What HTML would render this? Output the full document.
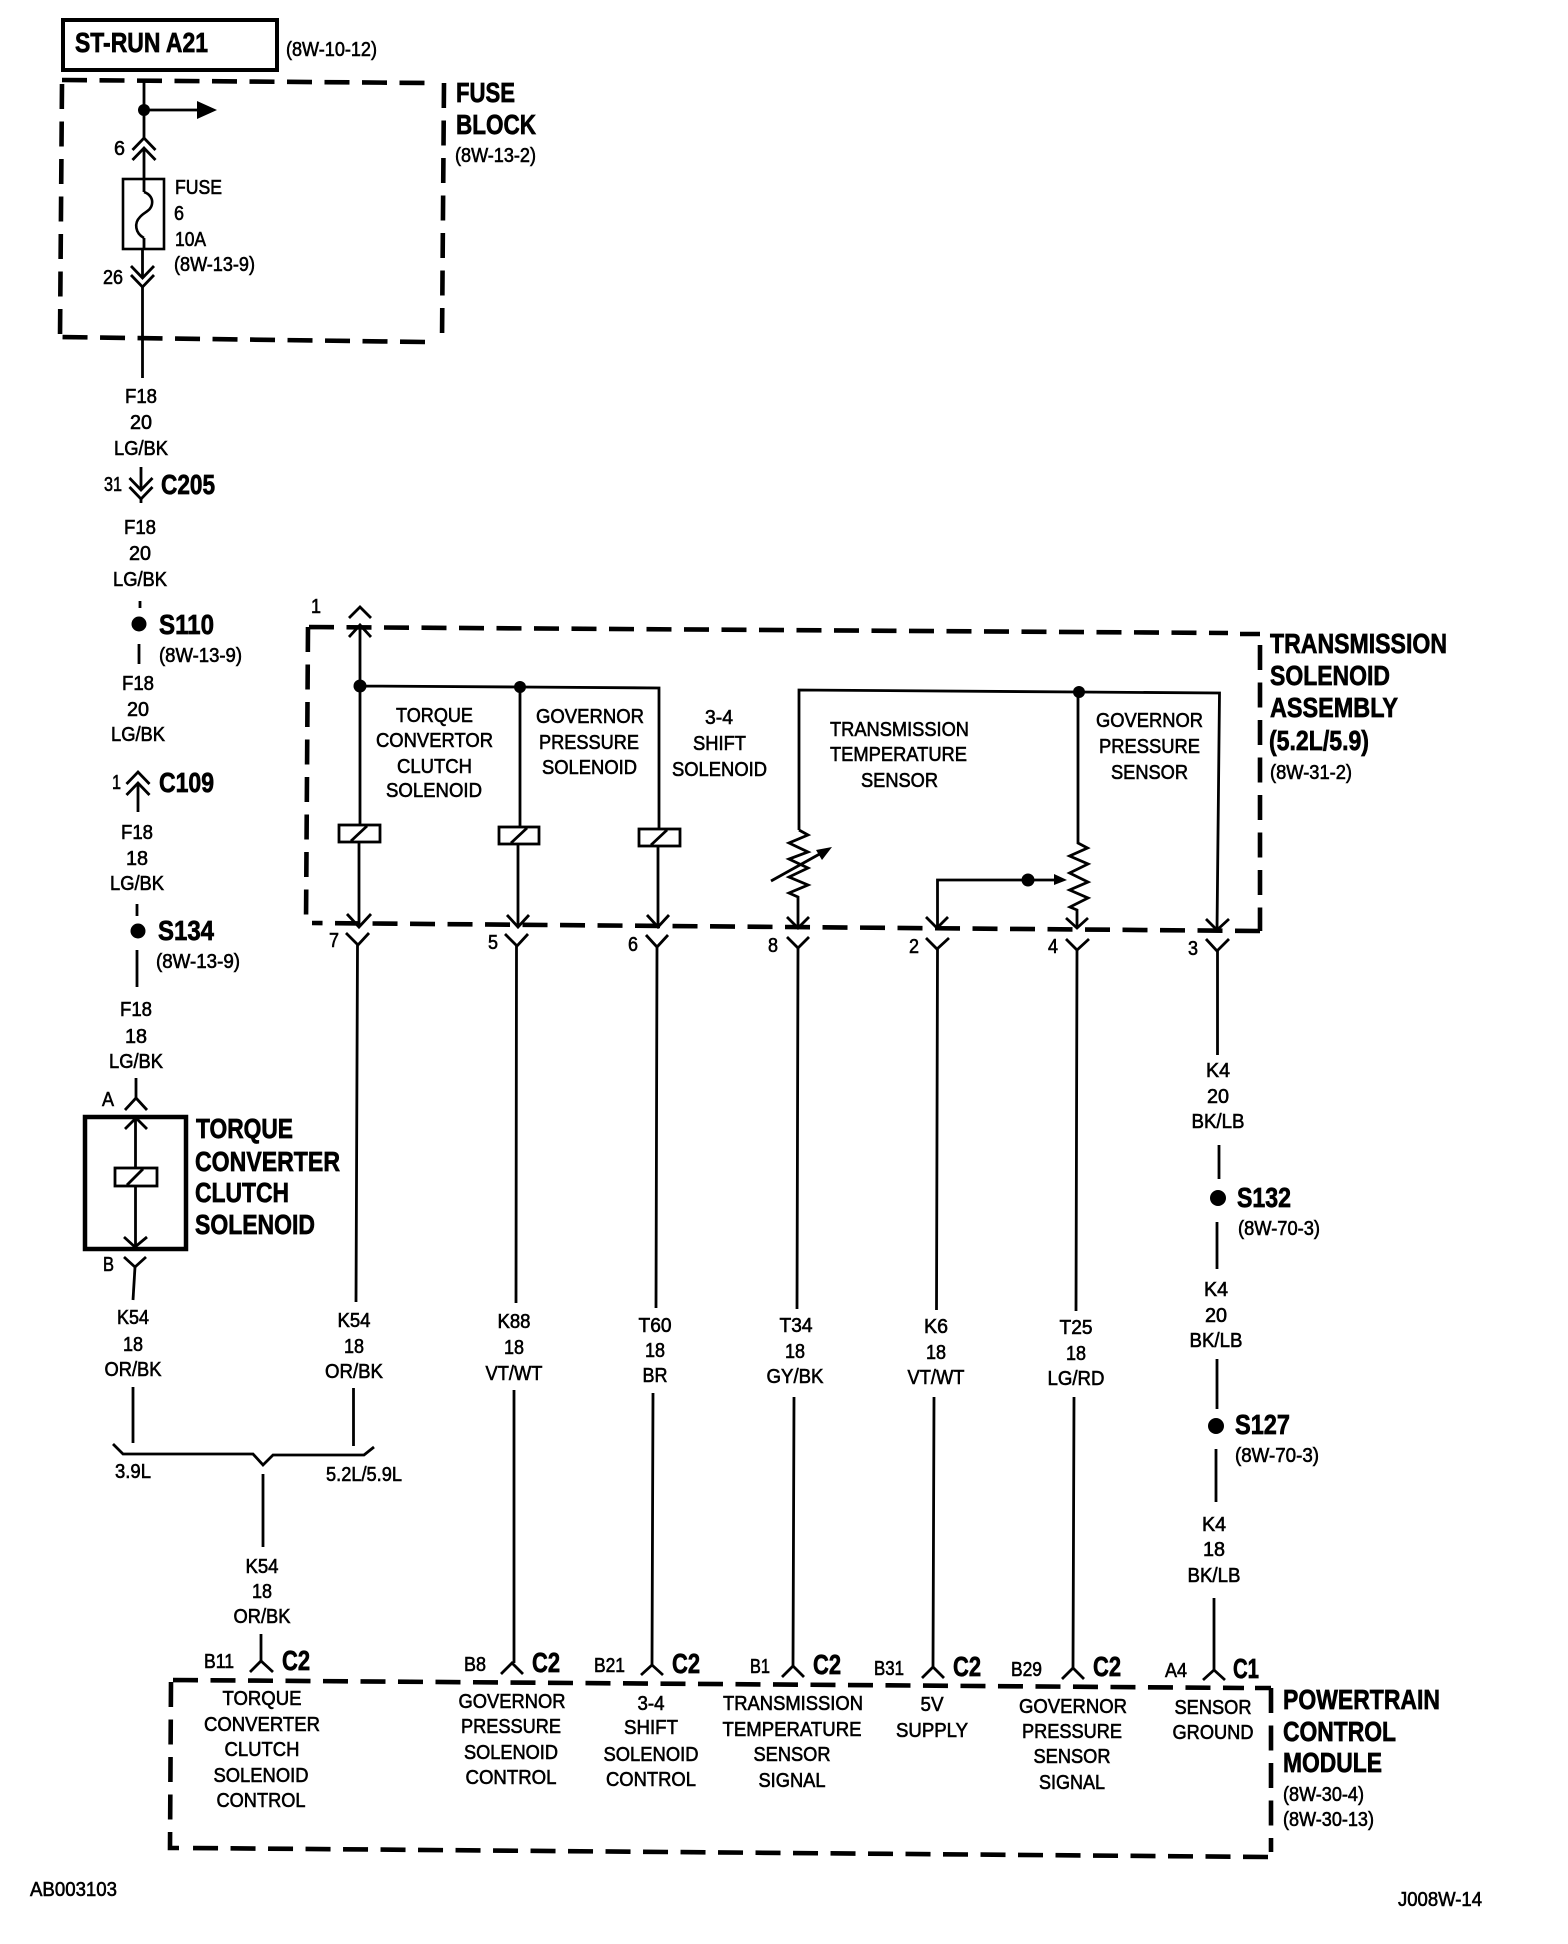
<!DOCTYPE html>
<html><head><meta charset="utf-8"><style>
html,body{margin:0;padding:0;background:#fff}
svg{display:block}
text{font-family:"Liberation Sans",sans-serif;fill:#000;transform:translateY(-1.2px)}
.r{font-size:20px;stroke:#000;stroke-width:.6px}
.m{text-anchor:middle}
.b{font-size:28px;font-weight:bold;stroke:#000;stroke-width:.7px}
.w{fill:none;stroke:#000;stroke-width:2.8}
.d{fill:none;stroke:#000;stroke-width:4.6;stroke-dasharray:25 12.5}
.v{fill:none;stroke:#000;stroke-width:2.8}
</style></head><body>
<svg width="1568" height="1944" viewBox="0 0 1568 1944" xmlns="http://www.w3.org/2000/svg">
<rect width="1568" height="1944" fill="#fff"/>

<!-- top box -->
<rect x="63" y="20" width="214" height="50" fill="none" stroke="#000" stroke-width="4"/>
<text class="b" x="75" y="53" textLength="133" lengthAdjust="spacingAndGlyphs">ST-RUN A21</text>
<text class="r" x="286" y="57" textLength="91" lengthAdjust="spacingAndGlyphs">(8W-10-12)</text>

<!-- fuse block dashed -->
<path class="d" d="M62 80L428 83M444 83L442 342M425 342L60 337M62 84L60 338"/>
<text class="b" x="456" y="103" textLength="59" lengthAdjust="spacingAndGlyphs">FUSE</text>
<text class="b" x="456" y="135" textLength="80" lengthAdjust="spacingAndGlyphs">BLOCK</text>
<text class="r" x="455" y="163" textLength="81" lengthAdjust="spacingAndGlyphs">(8W-13-2)</text>

<path class="w" d="M144 80V138M144 110H198M144 148V192M144 238V249M142.500 249V278M142.500 287V378"/>
<circle cx="144" cy="110" r="6"/>
<path d="M197 101L217 110L197 119Z"/>
<path class="v" d="M132.500 150L144 138L155.500 150M132.500 160L144 148L155.500 160M131 266L142.500 278L154 266M131 275L142.500 287L154 275"/>
<rect x="123" y="179" width="41" height="70" fill="none" stroke="#000" stroke-width="2.6"/>
<path d="M144 192C150 194 153 199 152 204C151 211 144 212 140 217C134 223 135 233 144 238" fill="none" stroke="#000" stroke-width="2.6"/>
<text class="r" x="114" y="156" textLength="11" lengthAdjust="spacingAndGlyphs">6</text>
<text class="r" x="103" y="285" textLength="20" lengthAdjust="spacingAndGlyphs">26</text>
<text class="r" x="175" y="195" textLength="47" lengthAdjust="spacingAndGlyphs">FUSE</text>
<text class="r" x="174" y="221" textLength="10" lengthAdjust="spacingAndGlyphs">6</text>
<text class="r" x="175" y="247" textLength="31" lengthAdjust="spacingAndGlyphs">10A</text>
<text class="r" x="174" y="272" textLength="81" lengthAdjust="spacingAndGlyphs">(8W-13-9)</text>

<!-- left harness -->
<text class="r" x="125" y="404" textLength="32" lengthAdjust="spacingAndGlyphs">F18</text>
<text class="r" x="130" y="430" textLength="22" lengthAdjust="spacingAndGlyphs">20</text>
<text class="r" x="114" y="456" textLength="54" lengthAdjust="spacingAndGlyphs">LG/BK</text>
<path class="w" d="M141 467V490M141 499V503"/>
<path class="v" d="M129.500 478L141 490L152.500 478M129.500 487L141 499L152.500 487"/>
<text class="r" x="104" y="492" textLength="18" lengthAdjust="spacingAndGlyphs">31</text>
<text class="b" x="161" y="495" textLength="54" lengthAdjust="spacingAndGlyphs">C205</text>
<text class="r" x="124" y="535" textLength="32" lengthAdjust="spacingAndGlyphs">F18</text>
<text class="r" x="129" y="561" textLength="22" lengthAdjust="spacingAndGlyphs">20</text>
<text class="r" x="113" y="587" textLength="54" lengthAdjust="spacingAndGlyphs">LG/BK</text>
<path class="w" d="M140 601V608M139 644V664"/>
<circle cx="139" cy="624" r="7.500"/>
<text class="b" x="159" y="635" textLength="55" lengthAdjust="spacingAndGlyphs">S110</text>
<text class="r" x="159" y="663" textLength="83" lengthAdjust="spacingAndGlyphs">(8W-13-9)</text>
<text class="r" x="122" y="691" textLength="32" lengthAdjust="spacingAndGlyphs">F18</text>
<text class="r" x="127" y="717" textLength="22" lengthAdjust="spacingAndGlyphs">20</text>
<text class="r" x="111" y="742" textLength="54" lengthAdjust="spacingAndGlyphs">LG/BK</text>
<path class="w" d="M138 783V812"/>
<path class="v" d="M126.500 784L138 772L149.500 784M126.500 795L138 783L149.500 795"/>
<text class="r" x="112" y="790" textLength="9" lengthAdjust="spacingAndGlyphs">1</text>
<text class="b" x="159" y="793" textLength="55" lengthAdjust="spacingAndGlyphs">C109</text>
<text class="r" x="121" y="840" textLength="32" lengthAdjust="spacingAndGlyphs">F18</text>
<text class="r" x="126" y="866" textLength="22" lengthAdjust="spacingAndGlyphs">18</text>
<text class="r" x="110" y="891" textLength="54" lengthAdjust="spacingAndGlyphs">LG/BK</text>
<path class="w" d="M137 904V916M137 950V987"/>
<circle cx="138" cy="931" r="7.500"/>
<text class="b" x="158" y="941" textLength="56" lengthAdjust="spacingAndGlyphs">S134</text>
<text class="r" x="156" y="969" textLength="84" lengthAdjust="spacingAndGlyphs">(8W-13-9)</text>
<text class="r" x="120" y="1017" textLength="32" lengthAdjust="spacingAndGlyphs">F18</text>
<text class="r" x="125" y="1044" textLength="22" lengthAdjust="spacingAndGlyphs">18</text>
<text class="r" x="109" y="1069" textLength="54" lengthAdjust="spacingAndGlyphs">LG/BK</text>

<!-- solenoid box -->
<path class="w" d="M136 1078V1098"/>
<path class="v" d="M125 1110L136 1098L147 1110"/>
<text class="r" x="102" y="1107" textLength="12" lengthAdjust="spacingAndGlyphs">A</text>
<rect x="85" y="1117" width="101" height="132" fill="none" stroke="#000" stroke-width="4.500"/>
<path class="w" d="M135.500 1118V1247"/>
<path class="v" d="M125 1129L136 1118L147 1129M124 1237L135 1247L147 1237"/>
<rect x="115" y="1168" width="42" height="18" fill="#fff" stroke="#000" stroke-width="2.800"/>
<path class="v" d="M127 1185L143 1169"/>
<path class="v" d="M124 1257L135 1267L146 1257"/>
<path class="w" d="M135 1267L133 1300"/>
<text class="r" x="103" y="1272" textLength="11" lengthAdjust="spacingAndGlyphs">B</text>
<text class="b" x="196" y="1139" textLength="97" lengthAdjust="spacingAndGlyphs">TORQUE</text>
<text class="b" x="195" y="1172" textLength="145" lengthAdjust="spacingAndGlyphs">CONVERTER</text>
<text class="b" x="195" y="1203" textLength="94" lengthAdjust="spacingAndGlyphs">CLUTCH</text>
<text class="b" x="195" y="1235" textLength="120" lengthAdjust="spacingAndGlyphs">SOLENOID</text>

<text class="r m" x="133" y="1325" textLength="32" lengthAdjust="spacingAndGlyphs">K54</text>
<text class="r m" x="133" y="1352" textLength="20" lengthAdjust="spacingAndGlyphs">18</text>
<text class="r m" x="133" y="1377" textLength="57" lengthAdjust="spacingAndGlyphs">OR/BK</text>
<text class="r m" x="354" y="1328" textLength="33" lengthAdjust="spacingAndGlyphs">K54</text>
<text class="r m" x="354" y="1354" textLength="20" lengthAdjust="spacingAndGlyphs">18</text>
<text class="r m" x="354" y="1379" textLength="58" lengthAdjust="spacingAndGlyphs">OR/BK</text>
<path class="w" d="M133 1387V1443M353.500 1388V1446M263 1474V1547"/>
<path class="w" d="M113 1444L123 1454L253 1454L263 1465L273 1455L364 1455L374 1447"/>
<text class="r" x="115" y="1479" textLength="36" lengthAdjust="spacingAndGlyphs">3.9L</text>
<text class="r" x="326" y="1482" textLength="76" lengthAdjust="spacingAndGlyphs">5.2L/5.9L</text>
<text class="r m" x="262" y="1574" textLength="33" lengthAdjust="spacingAndGlyphs">K54</text>
<text class="r m" x="262" y="1599" textLength="20" lengthAdjust="spacingAndGlyphs">18</text>
<text class="r m" x="262" y="1624" textLength="57" lengthAdjust="spacingAndGlyphs">OR/BK</text>

<!-- transmission solenoid assembly -->
<path class="d" d="M309 627L1228 633M1240 634H1260M1260 645V931M1260 931L312 923M308 627L306 923"/>
<text class="r" x="311" y="614" textLength="10" lengthAdjust="spacingAndGlyphs">1</text>
<path class="v" d="M349 618L360 607L371 618M349 637L360 625L371 637"/>
<path class="w" d="M360 625V824M360 686L520 687L659 688V828"/>
<circle cx="360" cy="686" r="6.500"/><circle cx="520" cy="687" r="6"/>
<path class="w" d="M520 687V826M359 842V927M518 844V927M658 846V927"/>
<rect x="339" y="825" width="41" height="17" fill="#fff" stroke="#000" stroke-width="2.800"/>
<path class="v" d="M351 841L367 826"/>
<rect x="499" y="827" width="40" height="17" fill="#fff" stroke="#000" stroke-width="2.800"/>
<path class="v" d="M511 843L527 828"/>
<rect x="639" y="829" width="41" height="17" fill="#fff" stroke="#000" stroke-width="2.800"/>
<path class="v" d="M651 845L667 830"/>
<path class="v" d="M347 914L359 927L371 914M507 915L518 927L529 915M647 915L658 927L669 915M787 917L798 928L809 917M926 917L937 928L948 917M1066 918L1077 928L1088 918M1206 919L1217 930L1229 919"/>
<path class="w" d="M799 830V690L1079 692L1219.500 693L1217 930"/>
<path class="w" d="M799 830L808 835L789 843L808 852L789 859L808 868L789 877L808 885L789 893L798 897V928"/>
<path class="w" d="M771 881L825 851"/>
<path d="M832 847L816 850L822 860Z"/>
<path class="w" d="M1078 692V843L1087.500 848L1069.600 856L1088 864L1069.600 873L1088 882L1069.600 890L1088 898L1070 907L1077 910V928"/>
<circle cx="1079" cy="692" r="6"/>
<path class="w" d="M937.500 928V880H1056"/>
<circle cx="1028" cy="880" r="6.500"/>
<path d="M1054 874L1067 880L1054 885Z"/>

<text class="r" x="396" y="723" textLength="77" lengthAdjust="spacingAndGlyphs">TORQUE</text>
<text class="r" x="376" y="748" textLength="117" lengthAdjust="spacingAndGlyphs">CONVERTOR</text>
<text class="r" x="397" y="774" textLength="75" lengthAdjust="spacingAndGlyphs">CLUTCH</text>
<text class="r" x="386" y="798" textLength="96" lengthAdjust="spacingAndGlyphs">SOLENOID</text>
<text class="r" x="536" y="724" textLength="108" lengthAdjust="spacingAndGlyphs">GOVERNOR</text>
<text class="r" x="539" y="750" textLength="100" lengthAdjust="spacingAndGlyphs">PRESSURE</text>
<text class="r" x="542" y="775" textLength="95" lengthAdjust="spacingAndGlyphs">SOLENOID</text>
<text class="r" x="705" y="725" textLength="28" lengthAdjust="spacingAndGlyphs">3-4</text>
<text class="r" x="693" y="751" textLength="53" lengthAdjust="spacingAndGlyphs">SHIFT</text>
<text class="r" x="672" y="777" textLength="95" lengthAdjust="spacingAndGlyphs">SOLENOID</text>
<text class="r" x="830" y="737" textLength="139" lengthAdjust="spacingAndGlyphs">TRANSMISSION</text>
<text class="r" x="830" y="762" textLength="137" lengthAdjust="spacingAndGlyphs">TEMPERATURE</text>
<text class="r" x="861" y="788" textLength="77" lengthAdjust="spacingAndGlyphs">SENSOR</text>
<text class="r" x="1096" y="728" textLength="107" lengthAdjust="spacingAndGlyphs">GOVERNOR</text>
<text class="r" x="1099" y="754" textLength="101" lengthAdjust="spacingAndGlyphs">PRESSURE</text>
<text class="r" x="1111" y="780" textLength="77" lengthAdjust="spacingAndGlyphs">SENSOR</text>

<text class="b" x="1270" y="654" textLength="177" lengthAdjust="spacingAndGlyphs">TRANSMISSION</text>
<text class="b" x="1270" y="686" textLength="120" lengthAdjust="spacingAndGlyphs">SOLENOID</text>
<text class="b" x="1270" y="718" textLength="128" lengthAdjust="spacingAndGlyphs">ASSEMBLY</text>
<text class="b" x="1269" y="751" textLength="100" lengthAdjust="spacingAndGlyphs">(5.2L/5.9)</text>
<text class="r" x="1270" y="780" textLength="82" lengthAdjust="spacingAndGlyphs">(8W-31-2)</text>

<!-- Y connectors -->
<path class="v" d="M346 933L358 945L369 933M505 934L517 946L528 934M646 935L657 947L668 935M787 937L798 948L809 937M926 938L937 949L949 938M1066 939L1077 950L1089 939M1206 939L1217 951L1229 939"/>
<text class="r" x="329" y="948" textLength="10" lengthAdjust="spacingAndGlyphs">7</text>
<text class="r" x="488" y="950" textLength="10" lengthAdjust="spacingAndGlyphs">5</text>
<text class="r" x="628" y="952" textLength="10" lengthAdjust="spacingAndGlyphs">6</text>
<text class="r" x="768" y="953" textLength="10" lengthAdjust="spacingAndGlyphs">8</text>
<text class="r" x="909" y="954" textLength="10" lengthAdjust="spacingAndGlyphs">2</text>
<text class="r" x="1048" y="954" textLength="10" lengthAdjust="spacingAndGlyphs">4</text>
<text class="r" x="1188" y="956" textLength="10" lengthAdjust="spacingAndGlyphs">3</text>
<path class="w" d="M357.500 945L356 1302M516.500 946L516 1303M657 947L656 1308M798 948L797 1309M937.500 949L936.500 1310M1077 950L1076 1311M1217.500 951V1055"/>
<path class="w" d="M514 1390V1663M653 1393L652 1665M794 1397L793 1666M934 1397L933 1667M1074 1397L1073 1668"/>

<text class="r m" x="514" y="1329" textLength="33" lengthAdjust="spacingAndGlyphs">K88</text>
<text class="r m" x="514" y="1355" textLength="20" lengthAdjust="spacingAndGlyphs">18</text>
<text class="r m" x="514" y="1381" textLength="57" lengthAdjust="spacingAndGlyphs">VT/WT</text>
<text class="r m" x="655" y="1333" textLength="33" lengthAdjust="spacingAndGlyphs">T60</text>
<text class="r m" x="655" y="1358" textLength="20" lengthAdjust="spacingAndGlyphs">18</text>
<text class="r m" x="655" y="1383" textLength="25" lengthAdjust="spacingAndGlyphs">BR</text>
<text class="r m" x="796" y="1333" textLength="33" lengthAdjust="spacingAndGlyphs">T34</text>
<text class="r m" x="795" y="1359" textLength="20" lengthAdjust="spacingAndGlyphs">18</text>
<text class="r m" x="795" y="1384" textLength="57" lengthAdjust="spacingAndGlyphs">GY/BK</text>
<text class="r m" x="936" y="1334" textLength="24" lengthAdjust="spacingAndGlyphs">K6</text>
<text class="r m" x="936" y="1360" textLength="20" lengthAdjust="spacingAndGlyphs">18</text>
<text class="r m" x="936" y="1385" textLength="57" lengthAdjust="spacingAndGlyphs">VT/WT</text>
<text class="r m" x="1076" y="1335" textLength="33" lengthAdjust="spacingAndGlyphs">T25</text>
<text class="r m" x="1076" y="1361" textLength="20" lengthAdjust="spacingAndGlyphs">18</text>
<text class="r m" x="1076" y="1386" textLength="57" lengthAdjust="spacingAndGlyphs">LG/RD</text>

<!-- right column -->
<text class="r m" x="1218" y="1078" textLength="24" lengthAdjust="spacingAndGlyphs">K4</text>
<text class="r m" x="1218" y="1104" textLength="22" lengthAdjust="spacingAndGlyphs">20</text>
<text class="r m" x="1218" y="1129" textLength="53" lengthAdjust="spacingAndGlyphs">BK/LB</text>
<path class="w" d="M1219 1145V1179M1217 1222V1269M1217 1359V1409M1216 1449V1502M1214 1598V1670"/>
<circle cx="1218" cy="1198" r="8"/>
<text class="b" x="1237" y="1208" textLength="54" lengthAdjust="spacingAndGlyphs">S132</text>
<text class="r" x="1238" y="1236" textLength="82" lengthAdjust="spacingAndGlyphs">(8W-70-3)</text>
<text class="r m" x="1216" y="1297" textLength="24" lengthAdjust="spacingAndGlyphs">K4</text>
<text class="r m" x="1216" y="1323" textLength="22" lengthAdjust="spacingAndGlyphs">20</text>
<text class="r m" x="1216" y="1348" textLength="53" lengthAdjust="spacingAndGlyphs">BK/LB</text>
<circle cx="1216" cy="1426" r="8"/>
<text class="b" x="1235" y="1435" textLength="55" lengthAdjust="spacingAndGlyphs">S127</text>
<text class="r" x="1235" y="1463" textLength="84" lengthAdjust="spacingAndGlyphs">(8W-70-3)</text>
<text class="r m" x="1214" y="1532" textLength="24" lengthAdjust="spacingAndGlyphs">K4</text>
<text class="r m" x="1214" y="1557" textLength="22" lengthAdjust="spacingAndGlyphs">18</text>
<text class="r m" x="1214" y="1583" textLength="53" lengthAdjust="spacingAndGlyphs">BK/LB</text>

<!-- PCM -->
<path class="d" d="M173 1680L1244 1688M1255 1688H1271M1271 1688V1852M1268 1857L190 1848M171 1682L170 1848H190"/>
<path class="w" d="M261 1634V1662"/>
<path class="v" d="M250 1672L261 1661L273 1672M501 1674L512 1663L523 1674M641 1675L652 1665L663 1675M782 1677L793 1666L804 1677M922 1678L933 1667L944 1678M1062 1679L1073 1668L1084 1679M1203 1680L1214 1670L1225 1680"/>

<text class="r" x="204" y="1669" textLength="30" lengthAdjust="spacingAndGlyphs">B11</text>
<text class="b" x="282" y="1671" textLength="28" lengthAdjust="spacingAndGlyphs">C2</text>
<text class="r" x="464" y="1672" textLength="22" lengthAdjust="spacingAndGlyphs">B8</text>
<text class="b" x="532" y="1673" textLength="28" lengthAdjust="spacingAndGlyphs">C2</text>
<text class="r" x="594" y="1673" textLength="31" lengthAdjust="spacingAndGlyphs">B21</text>
<text class="b" x="672" y="1674" textLength="28" lengthAdjust="spacingAndGlyphs">C2</text>
<text class="r" x="750" y="1674" textLength="20" lengthAdjust="spacingAndGlyphs">B1</text>
<text class="b" x="813" y="1675" textLength="28" lengthAdjust="spacingAndGlyphs">C2</text>
<text class="r" x="874" y="1676" textLength="30" lengthAdjust="spacingAndGlyphs">B31</text>
<text class="b" x="953" y="1677" textLength="28" lengthAdjust="spacingAndGlyphs">C2</text>
<text class="r" x="1011" y="1677" textLength="31" lengthAdjust="spacingAndGlyphs">B29</text>
<text class="b" x="1093" y="1677" textLength="28" lengthAdjust="spacingAndGlyphs">C2</text>
<text class="r" x="1165" y="1678" textLength="22" lengthAdjust="spacingAndGlyphs">A4</text>
<text class="b" x="1233" y="1679" textLength="26" lengthAdjust="spacingAndGlyphs">C1</text>

<text class="r m" x="262" y="1706" textLength="79" lengthAdjust="spacingAndGlyphs">TORQUE</text>
<text class="r m" x="262" y="1732" textLength="116" lengthAdjust="spacingAndGlyphs">CONVERTER</text>
<text class="r m" x="262" y="1757" textLength="75" lengthAdjust="spacingAndGlyphs">CLUTCH</text>
<text class="r m" x="261" y="1783" textLength="95" lengthAdjust="spacingAndGlyphs">SOLENOID</text>
<text class="r m" x="261" y="1808" textLength="89" lengthAdjust="spacingAndGlyphs">CONTROL</text>

<text class="r m" x="512" y="1709" textLength="107" lengthAdjust="spacingAndGlyphs">GOVERNOR</text>
<text class="r m" x="511" y="1734" textLength="100" lengthAdjust="spacingAndGlyphs">PRESSURE</text>
<text class="r m" x="511" y="1760" textLength="94" lengthAdjust="spacingAndGlyphs">SOLENOID</text>
<text class="r m" x="511" y="1785" textLength="91" lengthAdjust="spacingAndGlyphs">CONTROL</text>

<text class="r m" x="651" y="1711" textLength="27" lengthAdjust="spacingAndGlyphs">3-4</text>
<text class="r m" x="651" y="1735" textLength="54" lengthAdjust="spacingAndGlyphs">SHIFT</text>
<text class="r m" x="651" y="1762" textLength="95" lengthAdjust="spacingAndGlyphs">SOLENOID</text>
<text class="r m" x="651" y="1787" textLength="90" lengthAdjust="spacingAndGlyphs">CONTROL</text>

<text class="r m" x="793" y="1711" textLength="140" lengthAdjust="spacingAndGlyphs">TRANSMISSION</text>
<text class="r m" x="792" y="1737" textLength="139" lengthAdjust="spacingAndGlyphs">TEMPERATURE</text>
<text class="r m" x="792" y="1762" textLength="77" lengthAdjust="spacingAndGlyphs">SENSOR</text>
<text class="r m" x="792" y="1788" textLength="67" lengthAdjust="spacingAndGlyphs">SIGNAL</text>

<text class="r m" x="932" y="1712" textLength="23" lengthAdjust="spacingAndGlyphs">5V</text>
<text class="r m" x="932" y="1738" textLength="72" lengthAdjust="spacingAndGlyphs">SUPPLY</text>

<text class="r m" x="1073" y="1714" textLength="108" lengthAdjust="spacingAndGlyphs">GOVERNOR</text>
<text class="r m" x="1072" y="1739" textLength="100" lengthAdjust="spacingAndGlyphs">PRESSURE</text>
<text class="r m" x="1072" y="1764" textLength="77" lengthAdjust="spacingAndGlyphs">SENSOR</text>
<text class="r m" x="1072" y="1790" textLength="66" lengthAdjust="spacingAndGlyphs">SIGNAL</text>

<text class="r m" x="1213" y="1715" textLength="77" lengthAdjust="spacingAndGlyphs">SENSOR</text>
<text class="r m" x="1213" y="1740" textLength="81" lengthAdjust="spacingAndGlyphs">GROUND</text>

<text class="b" x="1283" y="1710" textLength="157" lengthAdjust="spacingAndGlyphs">POWERTRAIN</text>
<text class="b" x="1283" y="1742" textLength="113" lengthAdjust="spacingAndGlyphs">CONTROL</text>
<text class="b" x="1283" y="1773" textLength="99" lengthAdjust="spacingAndGlyphs">MODULE</text>
<text class="r" x="1283" y="1802" textLength="81" lengthAdjust="spacingAndGlyphs">(8W-30-4)</text>
<text class="r" x="1283" y="1827" textLength="91" lengthAdjust="spacingAndGlyphs">(8W-30-13)</text>

<text class="r" x="30" y="1897" textLength="87" lengthAdjust="spacingAndGlyphs">AB003103</text>
<text class="r" x="1398" y="1907" textLength="84" lengthAdjust="spacingAndGlyphs">J008W-14</text>
</svg>
</body></html>
